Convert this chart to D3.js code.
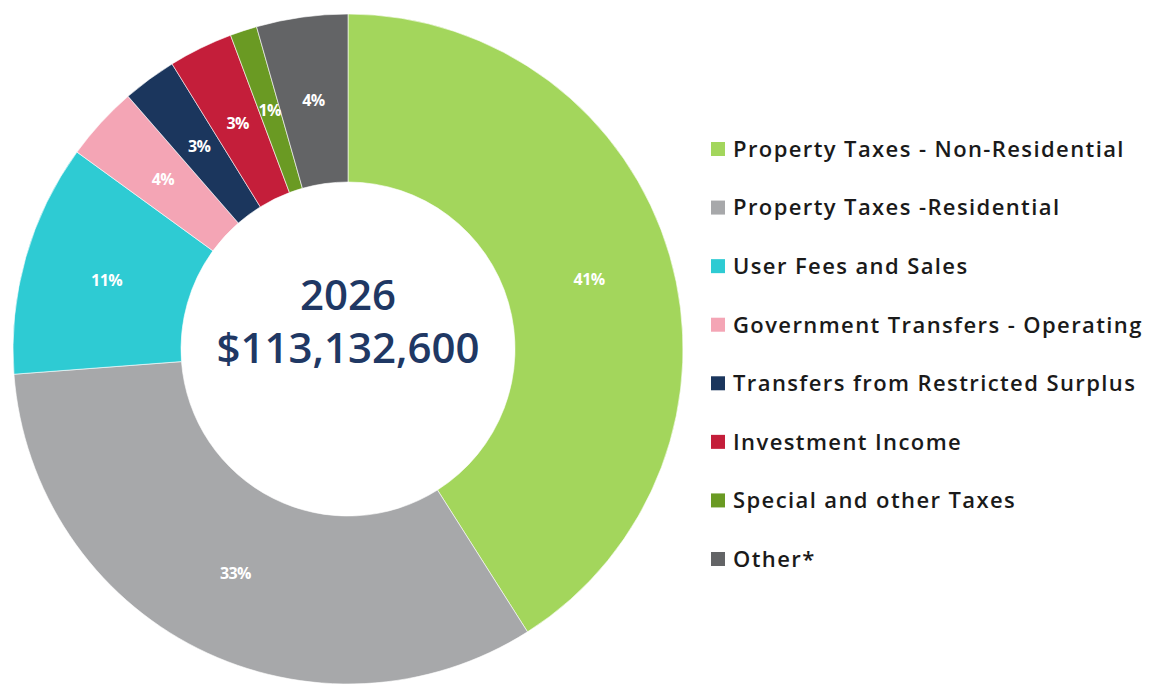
<!DOCTYPE html>
<html>
<head>
<meta charset="utf-8">
<script src="https://cdn.jsdelivr.net/npm/d3@7"></script>
<style>
  body { margin: 0; background: #fff; }
  svg { display: block; }
  text { font-family: "Open Sans", "Noto Sans", sans-serif; }
</style>
</head>
<body>
<div id="chart"></div>
<script>
// revenue shares (percent of total)
const categories = [
  'Property Taxes - Non-Residential',
  'Property Taxes -Residential',
  'User Fees and Sales',
  'Government Transfers - Operating',
  'Transfers from Restricted Surplus',
  'Investment Income',
  'Special and other Taxes',
  'Other*'
]
const shares = [41.0, 32.8, 11.2, 3.6, 2.6, 3.1, 1.3, 4.4]
const shareLabels = ['41%', '33%', '11%', '4%', '3%', '3%', '1%', '4%']
const colors = ['#a3d65c', '#a7a8aa', '#2ecbd3', '#f4a5b5', '#1b365d', '#c41e3a', '#6a9a23', '#636466']
const centerLines = ['2026', '$113,132,600']

const width = 1149, height = 686
const cx = 348, cy = 349
const outerR = 335, innerR = 167

let data = categories.map(function (c, i) {
  return { 'name': c, 'value': shares[i], 'label': shareLabels[i], 'color': colors[i] }
})

let svg = d3.select('#chart')
  .append('svg')
  .attr('width', width)
  .attr('height', height)

let pie = d3.pie().sort(null).value(d => d.value)
let arc = d3.arc().innerRadius(innerR).outerRadius(outerR)

let donut = svg.append('g').attr('transform', `translate(${cx},${cy})`)

let arcs = pie(data)

donut.selectAll('path')
  .data(arcs)
  .enter()
  .append('path')
  .attr('d', arc)
  .attr('fill', d => d.data.color)
  .attr('stroke', '#ffffff')
  .attr('stroke-width', 0.6)

donut.selectAll('text.pct')
  .data(arcs)
  .enter()
  .append('text')
  .attr('class', 'pct')
  .attr('transform', d => `translate(${arc.centroid(d)})`)
  .attr('text-anchor', 'middle')
  .attr('dy', '0.35em')
  .attr('fill', '#ffffff')
  .attr('font-size', 16)
  .attr('font-weight', 700)
  .attr('letter-spacing', -0.6)
  .text(d => d.data.label)

// centre total
donut.selectAll('text.centre')
  .data(centerLines)
  .enter()
  .append('text')
  .attr('class', 'centre')
  .attr('text-anchor', 'middle')
  .attr('y', (d, i) => i === 0 ? -39 : 14)
  .attr('fill', '#1f3864')
  .attr('font-size', 42)
  .attr('font-weight', 600)
  .text(d => d)

// legend
let legendScale = d3.scalePoint().domain(categories).range([149, 559])

let legend = svg.append('g')
  .selectAll('g')
  .data(data)
  .enter()
  .append('g')
  .attr('transform', d => `translate(711,${legendScale(d.name)})`)

legend.append('rect')
  .attr('x', 0)
  .attr('y', -7)
  .attr('width', 14)
  .attr('height', 14)
  .attr('fill', d => d.color)

legend.append('text')
  .attr('x', 22)
  .attr('dy', '0.36em')
  .attr('fill', '#1a1a1a')
  .attr('font-size', 22)
  .attr('font-weight', 600)
  .attr('letter-spacing', 1.4)
  .text(d => d.name)
</script>
</body>
</html>
